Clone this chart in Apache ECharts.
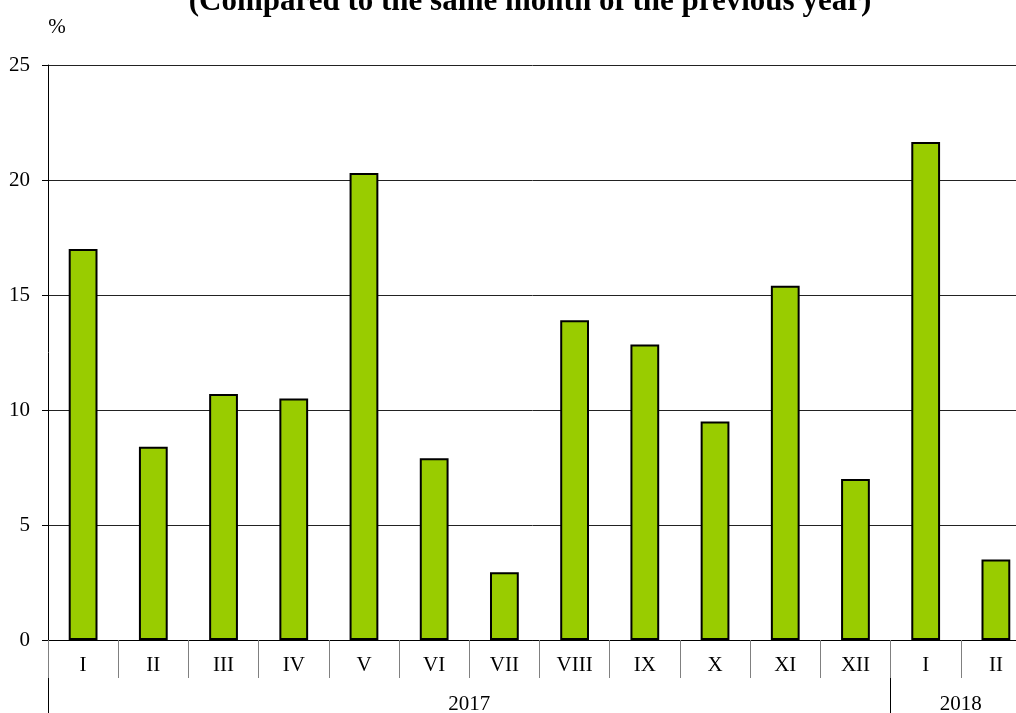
<!DOCTYPE html>
<html>
<head>
<meta charset="utf-8">
<style>
html,body{margin:0;padding:0;background:#fff;}
#chart{width:1016px;height:713px;}
</style>
<script src="https://cdn.jsdelivr.net/npm/echarts@6/dist/echarts.min.js"></script>
</head>
<body>
<div id="chart"></div>
<script>
const titleText = '(Compared to the same month of the previous year)';
const months = ['I','II','III','IV','V','VI','VII','VIII','IX','X','XI','XII','I','II'];
const values = [17.0, 8.4, 10.7, 10.5, 20.3, 7.9, 2.95, 13.9, 12.85, 9.5, 15.4, 7.0, 21.65, 3.5];
const years = ['2017', '2018'];
const yearBoundaries = [0, 12, 14];
const yearCenters = [6, 13];
const yTicks = [0, 5, 10, 15, 20, 25];

const font = 'Liberation Serif, Times New Roman, serif';
const chart = echarts.init(document.getElementById('chart'), null, {renderer: 'canvas'});
chart.setOption({
  animation: false,
  backgroundColor: '#fff',
  title: {
    text: titleText,
    left: 525,
    textAlign: 'center',
    top: -19,
    textStyle: {fontFamily: font, fontSize: 31, fontWeight: 'bold', color: '#000'}
  },
  grid: {left: 48, right: -15, top: 65, bottom: 73, containLabel: false, outerBoundsMode: 'none'},
  xAxis: [
    {
      type: 'category',
      data: months,
      position: 'bottom',
      axisLine: {show: true, lineStyle: {color: '#000', width: 1}},
      axisTick: {show: true, interval: 0, length: 38, lineStyle: {color: '#808080', width: 1}},
      axisLabel: {interval: 0, margin: 15, fontFamily: font, fontSize: 21, color: '#000'},
      splitLine: {show: false}
    },
    {
      type: 'value',
      min: 0,
      max: 14,
      position: 'bottom',
      offset: 38,
      axisLine: {show: false},
      axisTick: {show: true, customValues: yearBoundaries, length: 40, lineStyle: {color: '#000', width: 1}},
      axisLabel: {
        show: true,
        customValues: yearCenters,
        margin: 16,
        fontFamily: font, fontSize: 21, color: '#000',
        formatter: function (v) { return years[yearCenters.indexOf(v)] || ''; }
      },
      splitLine: {show: false}
    }
  ],
  yAxis: {
    type: 'value',
    min: 0,
    max: 25,
    interval: 5,
    name: '%',
    nameLocation: 'end',
    nameGap: 27,
    nameTextStyle: {fontFamily: font, fontSize: 21, color: '#000', padding: [0, 0, 0, 18]},
    axisLine: {show: true, lineStyle: {color: '#000', width: 1}},
    axisTick: {show: true, length: 6, lineStyle: {color: '#000'}},
    axisLabel: {margin: 18, fontFamily: font, fontSize: 21, color: '#000',
      formatter: function (v) { return yTicks.indexOf(v) >= 0 ? String(v) : ''; }},
    splitLine: {show: true, lineStyle: {color: '#222', width: 1}}
  },
  series: [{
    type: 'bar',
    xAxisIndex: 0,
    data: values,
    barWidth: '41%',
    itemStyle: {color: '#99CC00', borderColor: '#000', borderWidth: 2}
  }]
});
</script>
</body>
</html>
